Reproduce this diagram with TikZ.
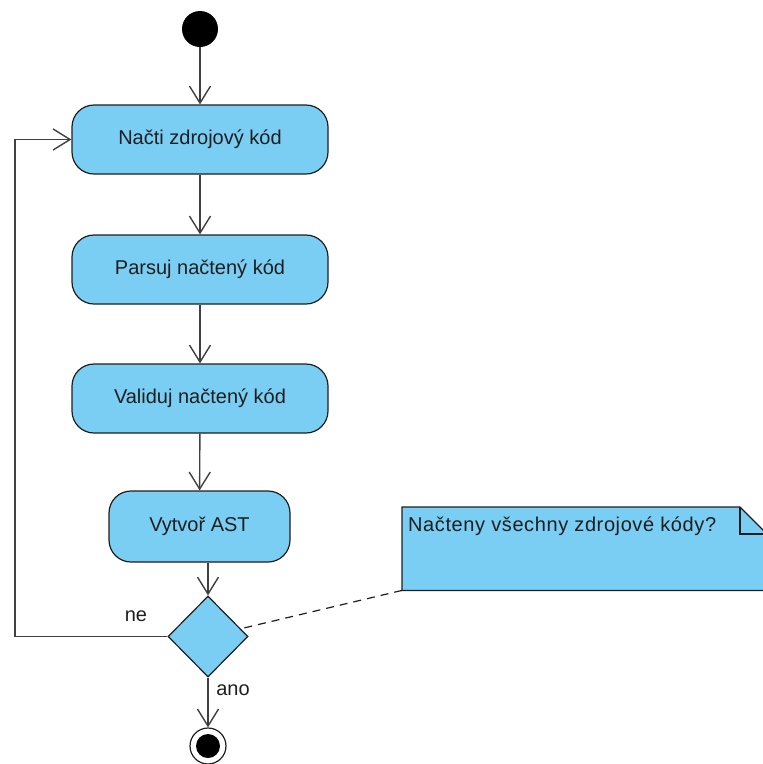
\documentclass[tikz,border=0pt]{standalone}
\usepackage{fontspec}
\setmainfont{Liberation Sans}
\usetikzlibrary{shapes.geometric,arrows.meta,calc}
\definecolor{actfill}{RGB}{122,206,244}
\definecolor{edge}{RGB}{64,64,64}
\definecolor{ink}{RGB}{30,30,30}
\begin{document}
\begin{tikzpicture}[x=1pt,y=-1pt,
  action/.style={draw=ink,fill=actfill,line width=1.2pt,rounded corners=22pt,
    minimum width=256pt,minimum height=69pt,inner sep=0pt,text=ink,font=\fontsize{20}{24}\selectfont},
  decision/.style={diamond,draw=ink,fill=actfill,line width=1.2pt,
    minimum width=80pt,minimum height=81pt,inner sep=0pt},
  flow/.style={draw=edge,line width=1.4pt,-{Straight Barb[length=17pt,width=21pt,line width=1.4pt]}},
  guard/.style={text=ink,font=\fontsize{20}{24}\selectfont},
  anchorline/.style={draw=ink,line width=1.2pt,dash pattern=on 8pt off 6pt}]
\useasboundingbox (0,0) rectangle (763,764);
\begin{scope}
\clip (0,0) rectangle (763,764);

% initial and final nodes
\node[circle,fill=black,minimum size=36pt,inner sep=0pt] (start) at (200,29) {};
\node[circle,draw=ink,line width=1.2pt,fill=white,minimum size=36pt,inner sep=0pt] (final) at (208,746) {};
\node[circle,fill=black,minimum size=24pt,inner sep=0pt] (finaldot) at (final) {};

% actions
\node[action] (b1) at (200,139.5) {Načti zdrojový kód};
\node[action] (b2) at (200,269.5) {Parsuj načtený kód};
\node[action] (b3) at (200,398.5) {Validuj načtený kód};
\node[action,minimum width=181pt,minimum height=71pt] (b4) at (199.5,526.5) {Vytvoř AST};

% decision
\node[decision] (dec) at (208,636.5) {};

% note
\node[minimum width=365pt,minimum height=83pt,inner sep=0pt,anchor=north west] (note) at (402,507) {};
\fill[actfill] (note.north west) -- (740,507) -- (767,534) -- (note.south east) -- (note.south west) -- cycle;
\draw[ink,line width=1.2pt] (note.north west) -- (740,507) -- (767,534) -- (note.south east) -- (note.south west) -- cycle;
\draw[ink,line width=1.2pt] (740,507) -- (740,534) -- (767,534);
\node[anchor=north west,inner sep=0pt,text=ink,font=\fontsize{20}{24}\selectfont\addfontfeature{LetterSpace=3}] (notetext)
  at ($(note.north west)+(6,10)$) {Načteny všechny zdrojové kódy?};

% control flow
\draw[flow] (start) -- (b1);
\draw[flow] (b1) -- (b2);
\draw[flow] (b2) -- (b3);
\draw[flow] (b3) -- (b4);
\draw[flow] (b4.south -| dec.north) -- (dec.north);
\draw[flow] (dec.south) -- (final);
\coordinate (loop) at (15,636.5);
\draw[flow] (dec.west) -- (loop) |- (b1.west);

% guards
\node[guard] (ne) at (136,616) {ne};
\node[guard] (ano) at (233,690) {ano};

% note anchor
\draw[anchorline] (note.south west) -- (dec);
\end{scope}
\end{tikzpicture}
\end{document}
